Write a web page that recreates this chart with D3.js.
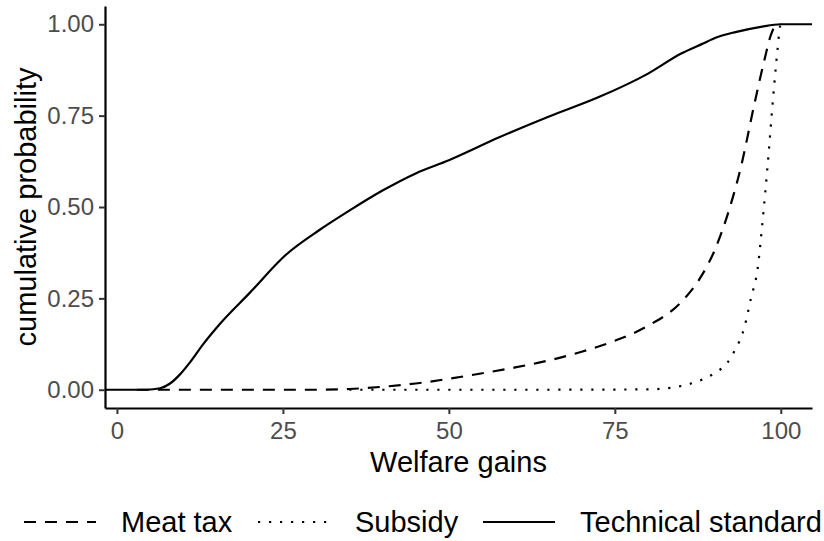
<!DOCTYPE html>
<html>
<head>
<meta charset="utf-8">
<script src="https://cdn.jsdelivr.net/npm/d3@7"></script>
<style>
  html, body { margin: 0; padding: 0; background: #fff; }
  svg { display: block; font-family: "Liberation Sans", Arial, sans-serif; }
</style>
</head>
<body>
<svg id="chart" width="824" height="541"></svg>
<script>
// Cumulative probability of welfare gains under three policies
const meatTaxX = [3, 10, 20, 30, 35, 40, 45, 50, 55, 60, 65, 70, 75, 80, 85, 88, 90, 92, 94, 96, 97.5, 98.5, 99.3, 100];
const meatTaxY = [0, 0, 0, 0, 0.002, 0.008, 0.017, 0.03, 0.045, 0.061, 0.08, 0.104, 0.134, 0.175, 0.24, 0.31, 0.38, 0.48, 0.61, 0.78, 0.9, 0.97, 0.998, 1];

const subsidyX = [35, 50, 65, 80, 84, 87, 90, 92, 93, 94.5, 95.5, 96.5, 97.3, 98, 98.8, 99.5, 99.9, 100];
const subsidyY = [0, 0, 0, 0.001, 0.007, 0.02, 0.045, 0.075, 0.105, 0.17, 0.25, 0.33, 0.47, 0.61, 0.79, 0.93, 0.995, 1];

const techX = [4.5, 6.5, 8, 9.5, 11, 13, 15.5, 20, 25.5, 30.5, 35, 40, 45, 50, 57.5, 65, 72.5, 80, 85, 88, 90.5, 93, 97, 100];
const techY = [0, 0.004, 0.017, 0.042, 0.075, 0.125, 0.18, 0.265, 0.37, 0.437, 0.49, 0.545, 0.592, 0.628, 0.69, 0.747, 0.8, 0.865, 0.92, 0.945, 0.965, 0.978, 0.993, 1];

const xTicks = [0, 25, 50, 75, 100];
const yTicks = [0, 0.25, 0.5, 0.75, 1];
const yTickLabels = ["0.00", "0.25", "0.50", "0.75", "1.00"];
const seriesNames = ["Meat tax", "Subsidy", "Technical standard"];

const svg = d3.select("#chart");
const panel = { left: 105, right: 812, top: 6, bottom: 408 };

const x = d3.scaleLinear().domain([-1.8, 104.7]).range([panel.left, panel.right]);
const y = d3.scaleLinear().domain([-0.05, 1.05]).range([panel.bottom, panel.top]);

const zip = (xs, ys) => xs.map((v, i) => ({ x: v, y: ys[i] }));

// the technical standard curve runs flat out to both panel edges
const techPts = zip(techX, techY);
techPts.unshift({ x: x.domain()[0], y: 0 });
techPts.push({ x: x.domain()[1], y: 1 });

const series = [
  { name: seriesNames[0], pts: zip(meatTaxX, meatTaxY), dash: "12,9" },
  { name: seriesNames[1], pts: zip(subsidyX, subsidyY), dash: "2.2,8.8" },
  { name: seriesNames[2], pts: techPts, dash: null }
];

const line = d3.line().x(d => x(d.x)).y(d => y(d.y)).curve(d3.curveMonotoneX);

svg.append("g").selectAll("path").data(series).join("path")
  .attr("d", d => line(d.pts))
  .attr("fill", "none")
  .attr("stroke", "#000")
  .attr("stroke-width", 2.2)
  .attr("stroke-dasharray", d => d.dash);

// axes
const xAxis = svg.append("g").attr("transform", `translate(0,${panel.bottom})`)
  .call(d3.axisBottom(x).tickValues(xTicks).tickSize(6).tickPadding(6).tickSizeOuter(0));
const yAxis = svg.append("g").attr("transform", `translate(${panel.left},0)`)
  .call(d3.axisLeft(y).tickValues(yTicks).tickFormat((d, i) => yTickLabels[i]).tickSize(6).tickPadding(5).tickSizeOuter(0));

[xAxis, yAxis].forEach(g => {
  g.select(".domain").attr("stroke", "#000").attr("stroke-width", 2.2);
  g.selectAll(".tick line").attr("stroke", "#333").attr("stroke-width", 2);
  g.selectAll(".tick text").attr("fill", "#4d4d4d").style("font-size", "24px")
    .style("font-family", "'Liberation Sans', Arial, sans-serif");
});
xAxis.selectAll(".tick text").attr("dy", "0.8em");

svg.append("text")
  .attr("x", (panel.left + panel.right) / 2).attr("y", 472)
  .attr("text-anchor", "middle").style("font-size", "29px").attr("fill", "#000")
  .text("Welfare gains");

svg.append("text")
  .attr("transform", `translate(36,${(panel.top + panel.bottom) / 2}) rotate(-90)`)
  .attr("text-anchor", "middle").style("font-size", "29px").attr("fill", "#000")
  .text("cumulative probability");

// legend
const legendKeys = [24, 258, 483];
const legendY = 522;
const leg = svg.append("g").selectAll("g").data(series).join("g")
  .attr("transform", (d, i) => `translate(${legendKeys[i]},${legendY})`);
leg.append("line")
  .attr("x1", 0).attr("x2", 72).attr("y1", 0).attr("y2", 0)
  .attr("stroke", "#000").attr("stroke-width", 2.2)
  .attr("stroke-dasharray", d => d.dash);
leg.append("text")
  .attr("x", 97).attr("y", 0).attr("dy", "0.36em")
  .style("font-size", "29px").attr("fill", "#000")
  .text(d => d.name);
</script>
</body>
</html>
